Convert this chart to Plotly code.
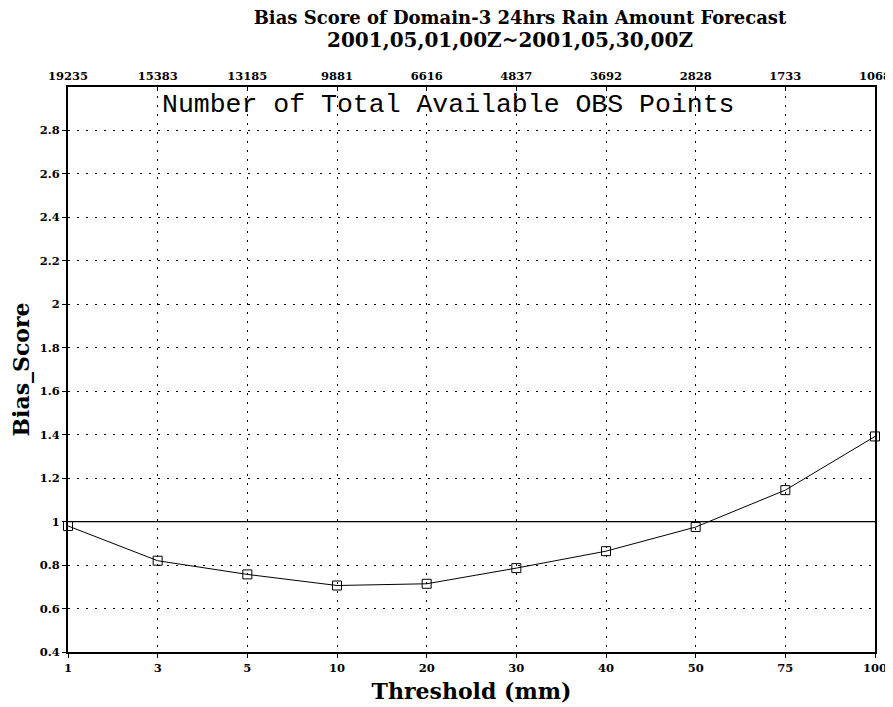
import plotly.graph_objects as go

thresholds = ["1", "3", "5", "10", "20", "30", "40", "50", "75", "100"]
obs_counts = ["19235", "15383", "13185", "9881", "6616", "4837", "3692", "2828", "1733", "1068"]
bias_score = [0.98, 0.82, 0.757, 0.706, 0.714, 0.786, 0.864, 0.975, 1.145, 1.392]

y_ticks = [0.4, 0.6, 0.8, 1.0, 1.2, 1.4, 1.6, 1.8, 2.0, 2.2, 2.4, 2.6, 2.8]
y_ticktext = ["0.4", "0.6", "0.8", "1", "1.2", "1.4", "1.6", "1.8", "2", "2.2", "2.4", "2.6", "2.8"]
ref_line = 1.0

serif = "DejaVu Serif"
tickfont = dict(family=serif, size=11.5, color="black", weight="bold")
dots = "2px,7px"

fig = go.Figure()
fig.add_trace(go.Scatter(
    x=thresholds, y=bias_score, mode="lines+markers",
    line=dict(color="black", width=1),
    marker=dict(symbol="square-open", size=9, color="black", line=dict(width=1)),
    cliponaxis=False, showlegend=False,
))
fig.add_trace(go.Scatter(
    x=obs_counts, y=bias_score, xaxis="x2", mode="markers",
    marker=dict(opacity=0), hoverinfo="skip", showlegend=False,
))
fig.add_shape(type="line", xref="paper", x0=0, x1=1, yref="y", y0=ref_line, y1=ref_line,
              line=dict(color="black", width=1.2))

fig.update_layout(
    width=885, height=699,
    paper_bgcolor="white", plot_bgcolor="white",
    margin=dict(l=60, r=18, t=79, b=55, autoexpand=False),
    title=dict(
        text="Bias Score of Domain-3 24hrs Rain Amount Forecast",
        x=0.5785, xanchor="center", y=0.9857, yanchor="middle",
        font=dict(family=serif, size=18, color="black", weight="bold"),
    ),
    xaxis=dict(
        type="category", range=[0, 9], showgrid=True, gridcolor="black", griddash=dots, gridwidth=1,
        showline=True, linecolor="black", linewidth=2, mirror=False,
        ticks="outside", ticklen=4, tickcolor="black", tickfont=tickfont,
        title=dict(text="Threshold (mm)", font=dict(family=serif, size=22, color="black", weight="bold"), standoff=10),
        zeroline=False,
    ),
    xaxis2=dict(
        type="category", range=[0, 9], overlaying="x", side="top", showgrid=False,
        showline=True, linecolor="black", linewidth=2,
        ticks="inside", ticklen=4, tickcolor="black", tickfont=tickfont,
    ),
    yaxis=dict(
        range=[0.4, 3.0], tickmode="array", tickvals=y_ticks, ticktext=y_ticktext,
        showgrid=True, gridcolor="black", griddash=dots, gridwidth=1,
        showline=True, linecolor="black", linewidth=2, mirror=True,
        ticks="outside", ticklen=4, tickcolor="black", tickfont=tickfont,
        title=dict(text="Bias_Score", font=dict(family=serif, size=22, color="black", weight="bold"), standoff=8),
        zeroline=False,
    ),
    annotations=[
        dict(
            text="2001,05,01,00Z~2001,05,30,00Z", xref="paper", yref="paper",
            x=0.548, y=1.0832, xanchor="center", yanchor="middle", showarrow=False,
            font=dict(family=serif, size=20, color="black", weight="bold"),
        ),
        dict(
            text="Number of Total Available OBS Points", xref="paper", yref="paper",
            x=0.472, y=0.968, xanchor="center", yanchor="middle", showarrow=False,
            font=dict(family="Liberation Mono", size=26.5, color="black"),
        ),
    ],
)

fig.write_html("out.html")
